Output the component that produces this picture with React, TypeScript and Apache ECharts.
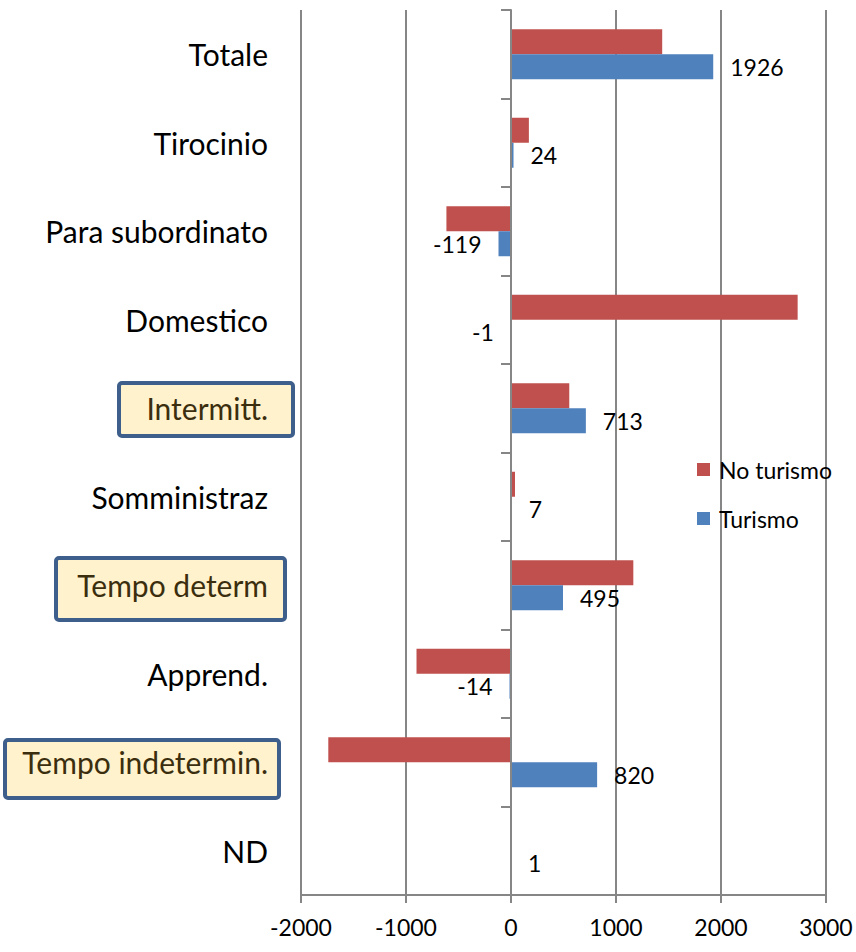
import React, { useEffect, useRef } from 'react';
import * as echarts from 'echarts';

const categories = ['ND', 'Tempo indetermin.', 'Apprend.', 'Tempo determ', 'Somministraz', 'Intermitt.', 'Domestico', 'Para subordinato', 'Tirocinio', 'Totale'];
const turismo = [1, 820, -14, 495, 7, 713, -1, -119, 24, 1926];
const noTurismo = [0, -1740, -900, 1165, 38, 555, 2730, -615, 170, 1440];
const highlighted = ['Intermitt.', 'Tempo determ', 'Tempo indetermin.'];
const xMin = -2000;
const xMax = 3000;
const xStep = 1000;

const FONT = 'Lato';
const RED = '#C0504D';
const BLUE = '#4F81BD';
const GRID = '#868686';

export default function App() {
  const ref = useRef<HTMLDivElement>(null);
  useEffect(() => {
    if (!ref.current) return;
    const chart = echarts.init(ref.current, undefined, { renderer: 'svg' });
    const boxStyle = { fill: '#FFF2CC', stroke: '#3E5F8B', lineWidth: 4 };
    chart.setOption({
      animation: false,
      backgroundColor: '#ffffff',
      textStyle: { fontFamily: FONT },
      grid: { left: 301, right: 30, top: 10, bottom: 57, containLabel: false, outerBoundsMode: 'none' },
      legend: {
        orient: 'vertical',
        left: 697,
        top: 458,
        padding: 0,
        itemWidth: 13,
        itemHeight: 13,
        itemGap: 26,
        icon: 'rect',
        data: ['No turismo', 'Turismo'],
        textStyle: { fontFamily: FONT, fontSize: 23, color: '#000', padding: [0, 0, 0, 4] },
      },
      graphic: [
        { type: 'rect', z: -10, shape: { x: 119, y: 383, width: 174, height: 53, r: 3 }, style: boxStyle },
        { type: 'rect', z: -10, shape: { x: 56, y: 558, width: 229, height: 62, r: 3 }, style: boxStyle },
        { type: 'rect', z: -10, shape: { x: 5, y: 740, width: 274, height: 58, r: 3 }, style: boxStyle },
      ],
      xAxis: {
        type: 'value',
        min: xMin,
        max: xMax,
        interval: xStep,
        axisLine: { show: true, onZero: false, lineStyle: { color: GRID, width: 2 } },
        axisTick: { show: true, length: 8, lineStyle: { color: GRID, width: 2 } },
        axisLabel: { fontFamily: FONT, fontSize: 23, color: '#000', margin: 20, formatter: (v: number) => String(v) },
        splitLine: { show: true, lineStyle: { color: GRID, width: 2 } },
      },
      yAxis: {
        type: 'category',
        data: categories,
        z: 10,
        axisLine: { show: true, onZero: true, lineStyle: { color: GRID, width: 2 } },
        axisTick: { show: true, length: 10, lineStyle: { color: GRID, width: 2 } },
        axisLabel: {
          fontFamily: FONT,
          fontSize: 30,
          margin: 33,
          color: (value: string) => (highlighted.includes(value) ? '#3B2E0E' : '#000'),
        },
        splitLine: { show: false },
      },
      series: [
        {
          name: 'No turismo',
          type: 'bar',
          data: noTurismo,
          barWidth: 25,
          barGap: '0%',
          itemStyle: { color: RED },
        },
        {
          name: 'Turismo',
          type: 'bar',
          barWidth: 25,
          barGap: '0%',
          itemStyle: { color: BLUE },
          data: turismo.map((v) => ({
            value: v,
            label: {
              show: true,
              position: v < 0 ? 'left' : 'right',
              distance: 17,
              fontFamily: FONT,
              fontSize: 23,
              color: '#000',
            },
          })),
        },
      ],
    });
    return () => chart.dispose();
  }, []);
  return <div ref={ref} style={{ position: 'absolute', left: 0, top: 0, width: 856, height: 952 }} />;
}
